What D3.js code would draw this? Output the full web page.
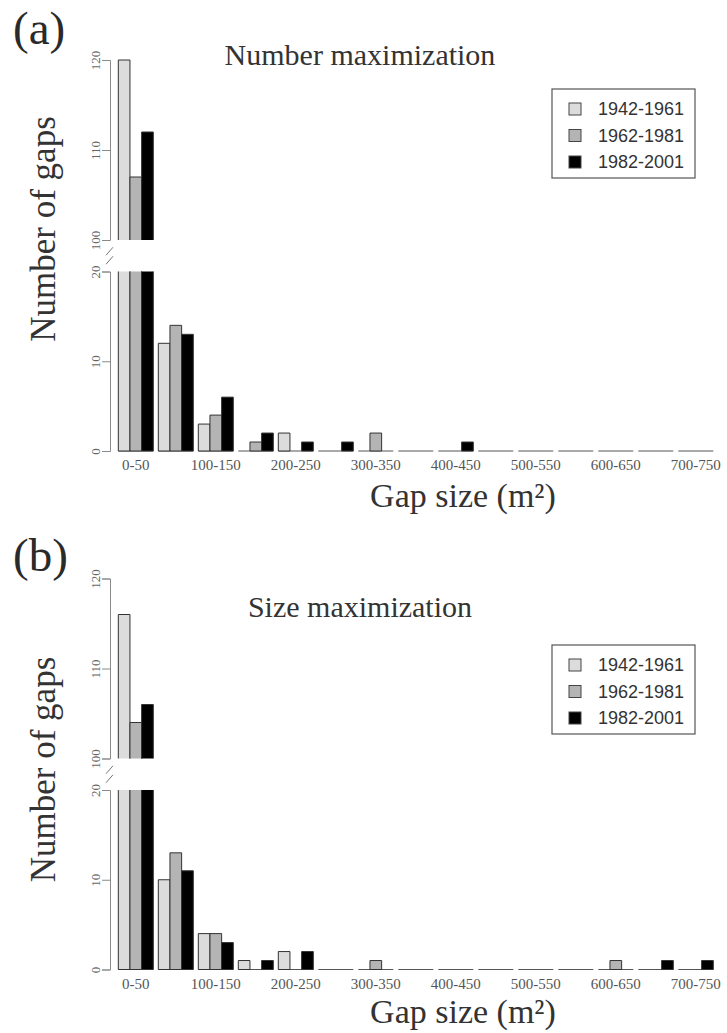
<!DOCTYPE html>
<html>
<head>
<meta charset="utf-8">
<script src="https://cdn.jsdelivr.net/npm/d3@7"></script>
<style>
  body { margin: 0; background: #fff; }
  svg { display: block; }
</style>
</head>
<body>
<div id="chart"></div>
<script>
// gap size classes (m2)
var categories = ["0-50", "50-100", "100-150", "150-200", "200-250", "250-300", "300-350",
  "350-400", "400-450", "450-500", "500-550", "550-600", "600-650", "650-700", "700-750"];
var xTickLabels = ["0-50", "100-150", "200-250", "300-350", "400-450", "500-550", "600-650", "700-750"];
var periods = ["1942-1961", "1962-1981", "1982-2001"];
var periodColors = ["#dcdcdc", "#b4b4b4", "#000000"];

// (a) number maximization
var numberMax1942 = [120, 12, 3, 0, 2, 0, 0, 0, 0, 0, 0, 0, 0, 0, 0];
var numberMax1962 = [107, 14, 4, 1, 0, 0, 2, 0, 0, 0, 0, 0, 0, 0, 0];
var numberMax1982 = [112, 13, 6, 2, 1, 1, 0, 0, 1, 0, 0, 0, 0, 0, 0];

// (b) size maximization
var sizeMax1942 = [116, 10, 4, 1, 2, 0, 0, 0, 0, 0, 0, 0, 0, 0, 0];
var sizeMax1962 = [104, 13, 4, 0, 0, 0, 1, 0, 0, 0, 0, 0, 1, 0, 0];
var sizeMax1982 = [106, 11, 3, 1, 2, 0, 0, 0, 0, 0, 0, 0, 0, 1, 1];

// broken y axis
var lowerTicks = [0, 10, 20];
var upperTicks = [100, 110, 120];

var W = 727, H = 1033;
var svg = d3.select("#chart").append("svg")
  .attr("width", W)
  .attr("height", H);

var serif = "'Liberation Serif', 'DejaVu Serif', serif";
var sans = "'Liberation Sans', Arial, sans-serif";

// shared x scales
var x = d3.scaleBand()
  .domain(categories)
  .range([118.3, 713.3])
  .paddingInner(0.125)
  .paddingOuter(0);
var xs = d3.scaleBand()
  .domain(periods)
  .range([0, x.bandwidth()])
  .padding(0);

function drawPanel(cfg) {
  var g = svg.append("g").attr("transform", "translate(0," + cfg.dy + ")");

  var yTop = d3.scaleLinear().domain([100, 120]).range([240, 60]);
  var yBot = d3.scaleLinear().domain([0, 20]).range([451, 271.5]);

  // panel letter
  g.append("text")
    .attr("x", 13)
    .attr("y", cfg.letterY)
    .style("font-family", serif)
    .style("font-size", "47px")
    .style("fill", "#2a2a2a")
    .text(cfg.letter);

  // title
  g.append("text")
    .attr("x", 360)
    .attr("y", cfg.titleY)
    .attr("text-anchor", "middle")
    .style("font-family", serif)
    .style("font-size", "30px")
    .style("fill", "#333")
    .text(cfg.title);

  // y label
  g.append("text")
    .attr("transform", "translate(55," + cfg.ylabY + ") rotate(-90)")
    .attr("text-anchor", "middle")
    .style("font-family", serif)
    .style("font-size", "35px")
    .style("fill", "#333")
    .text("Number of gaps");

  // y axes, two segments
  [[yTop, upperTicks], [yBot, lowerTicks]].forEach(function(p) {
    var ax = g.append("g")
      .attr("transform", "translate(110,0)")
      .call(d3.axisLeft(p[0]).tickValues(p[1]).tickSizeOuter(0).tickSize(8));
    ax.select(".domain").attr("stroke", "#8a8a8a");
    ax.selectAll(".tick line").attr("stroke", "#8a8a8a");
    ax.selectAll(".tick text")
      .attr("transform", "rotate(-90)")
      .attr("x", 0)
      .attr("y", -10)
      .attr("dy", 0)
      .style("text-anchor", "middle")
      .style("font-family", serif)
      .style("font-size", "13px")
      .style("fill", "#666");
  });

  // break marks
  var mid = (yTop(100) + yBot(20)) / 2;
  [-4.5, 4.5].forEach(function(o) {
    g.append("line")
      .attr("x1", 106).attr("y1", mid + o + 4)
      .attr("x2", 113).attr("y2", mid + o - 4)
      .attr("stroke", "#777")
      .attr("stroke-width", 1);
  });

  // baselines under every group
  g.selectAll(".base")
    .data(categories)
    .enter()
    .append("line")
    .attr("x1", function(d) { return x(d); })
    .attr("x2", function(d) { return x(d) + x.bandwidth(); })
    .attr("y1", yBot(0))
    .attr("y2", yBot(0))
    .attr("stroke", "#555")
    .attr("stroke-width", 1);

  // bars
  var rows = [];
  cfg.series.forEach(function(vals, si) {
    vals.forEach(function(v, ci) {
      if (v > 0) rows.push({ cat: categories[ci], period: periods[si], value: v, si: si });
    });
  });

  function barPath(x0, x1, yb, yt, closedTop, closedBottom) {
    var p = "M" + x0 + "," + yb + "L" + x0 + "," + yt;
    p += closedTop ? "L" + x1 + "," + yt : "M" + x1 + "," + yt;
    p += "L" + x1 + "," + yb;
    if (closedBottom) p += "L" + x0 + "," + yb;
    return p;
  }

  rows.forEach(function(d) {
    var x0 = x(d.cat) + xs(d.period);
    var x1 = x0 + xs.bandwidth();
    var lowTop = Math.min(d.value, 20);
    g.append("rect")
      .attr("x", x0).attr("width", xs.bandwidth())
      .attr("y", yBot(lowTop)).attr("height", yBot(0) - yBot(lowTop))
      .attr("fill", periodColors[d.si]);
    g.append("path")
      .attr("d", barPath(x0, x1, yBot(0), yBot(lowTop), d.value <= 20, true))
      .attr("fill", "none")
      .attr("stroke", "#333")
      .attr("stroke-width", 1);
    if (d.value > 100) {
      g.append("rect")
        .attr("x", x0).attr("width", xs.bandwidth())
        .attr("y", yTop(d.value)).attr("height", yTop(100) - yTop(d.value))
        .attr("fill", periodColors[d.si]);
      g.append("path")
        .attr("d", barPath(x0, x1, yTop(100), yTop(d.value), true, false))
        .attr("fill", "none")
        .attr("stroke", "#333")
        .attr("stroke-width", 1);
    }
  });

  // x axis labels
  var xa = g.append("g")
    .attr("transform", "translate(0," + yBot(0) + ")")
    .call(d3.axisBottom(x).tickValues(xTickLabels).tickSize(0));
  xa.select(".domain").remove();
  xa.selectAll(".tick text")
    .attr("y", 19)
    .attr("dy", 0)
    .style("font-family", serif)
    .style("font-size", "15px")
    .style("fill", "#555");

  // x label
  g.append("text")
    .attr("x", 463)
    .attr("y", cfg.xlabY)
    .attr("text-anchor", "middle")
    .style("font-family", serif)
    .style("font-size", "34px")
    .style("fill", "#333")
    .text("Gap size (m\u00B2)");

  // legend
  var lg = g.append("g").attr("transform", "translate(552," + cfg.legY + ")");
  lg.append("rect")
    .attr("width", 143).attr("height", 89)
    .attr("fill", "#fff")
    .attr("stroke", "#555")
    .attr("stroke-width", 1.2);
  periods.forEach(function(p, i) {
    lg.append("rect")
      .attr("x", 17).attr("y", 14 + i * 26.5)
      .attr("width", 12).attr("height", 12)
      .attr("fill", periodColors[i])
      .attr("stroke", "#444");
    lg.append("text")
      .attr("x", 46).attr("y", 26 + i * 26.5)
      .style("font-family", sans)
      .style("font-size", "18px")
      .style("fill", "#333")
      .text(p);
  });
}

drawPanel({
  dy: 0, letter: "(a)", letterY: 44, title: "Number maximization", titleY: 65,
  ylabY: 229, xlabY: 507, legY: 89,
  series: [numberMax1942, numberMax1962, numberMax1982]
});

drawPanel({
  dy: 518.5, letter: "(b)", letterY: 52, title: "Size maximization", titleY: 98.5,
  ylabY: 251, xlabY: 504, legY: 126.5,
  series: [sizeMax1942, sizeMax1962, sizeMax1982]
});
</script>
</body>
</html>
